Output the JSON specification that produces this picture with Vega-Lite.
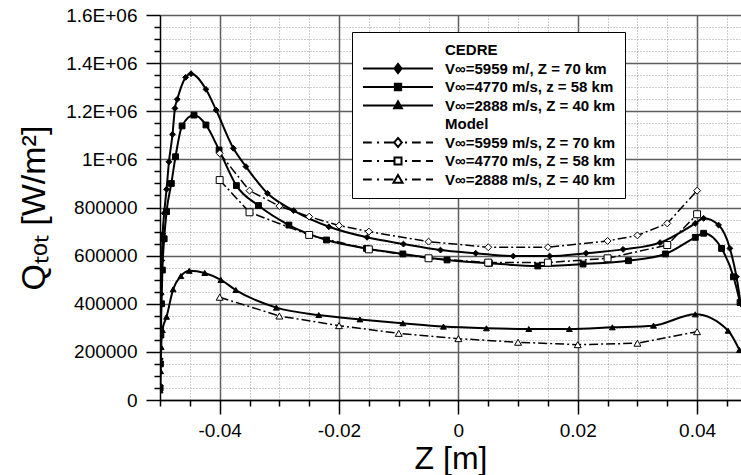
{
  "$schema": "https://vega.github.io/schema/vega-lite/v6.json",
  "width": 581,
  "height": 385,
  "autosize": {"type": "none"},
  "padding": {"left": 160, "top": 15, "right": 0, "bottom": 75},
  "background": "white",
  "config": {"view": {"stroke": null}, "font": "Liberation Sans"},
  "data": {"values": [
    {"src":"CEDRE","series":"V∞=5959 m/, Z = 70 km","z":-0.04998,"q":60000},
    {"src":"CEDRE","series":"V∞=5959 m/, Z = 70 km","z":-0.04994,"q":170000},
    {"src":"CEDRE","series":"V∞=5959 m/, Z = 70 km","z":-0.04988,"q":300000},
    {"src":"CEDRE","series":"V∞=5959 m/, Z = 70 km","z":-0.0498,"q":440000},
    {"src":"CEDRE","series":"V∞=5959 m/, Z = 70 km","z":-0.0497,"q":580000},
    {"src":"CEDRE","series":"V∞=5959 m/, Z = 70 km","z":-0.04955,"q":690000},
    {"src":"CEDRE","series":"V∞=5959 m/, Z = 70 km","z":-0.0493,"q":776000},
    {"src":"CEDRE","series":"V∞=5959 m/, Z = 70 km","z":-0.0489,"q":876000},
    {"src":"CEDRE","series":"V∞=5959 m/, Z = 70 km","z":-0.0485,"q":990000},
    {"src":"CEDRE","series":"V∞=5959 m/, Z = 70 km","z":-0.0479,"q":1104000},
    {"src":"CEDRE","series":"V∞=5959 m/, Z = 70 km","z":-0.0475,"q":1212000},
    {"src":"CEDRE","series":"V∞=5959 m/, Z = 70 km","z":-0.0471,"q":1250000},
    {"src":"CEDRE","series":"V∞=5959 m/, Z = 70 km","z":-0.0457,"q":1341000},
    {"src":"CEDRE","series":"V∞=5959 m/, Z = 70 km","z":-0.0448,"q":1356000},
    {"src":"CEDRE","series":"V∞=5959 m/, Z = 70 km","z":-0.0423,"q":1291000},
    {"src":"CEDRE","series":"V∞=5959 m/, Z = 70 km","z":-0.0406,"q":1205000},
    {"src":"CEDRE","series":"V∞=5959 m/, Z = 70 km","z":-0.0377,"q":1046000},
    {"src":"CEDRE","series":"V∞=5959 m/, Z = 70 km","z":-0.0356,"q":970000},
    {"src":"CEDRE","series":"V∞=5959 m/, Z = 70 km","z":-0.032,"q":859000},
    {"src":"CEDRE","series":"V∞=5959 m/, Z = 70 km","z":-0.0276,"q":787000},
    {"src":"CEDRE","series":"V∞=5959 m/, Z = 70 km","z":-0.0217,"q":720000},
    {"src":"CEDRE","series":"V∞=5959 m/, Z = 70 km","z":-0.0153,"q":676000},
    {"src":"CEDRE","series":"V∞=5959 m/, Z = 70 km","z":-0.0092,"q":648000},
    {"src":"CEDRE","series":"V∞=5959 m/, Z = 70 km","z":-0.003,"q":623000},
    {"src":"CEDRE","series":"V∞=5959 m/, Z = 70 km","z":0.0029,"q":610000},
    {"src":"CEDRE","series":"V∞=5959 m/, Z = 70 km","z":0.0092,"q":598000},
    {"src":"CEDRE","series":"V∞=5959 m/, Z = 70 km","z":0.0153,"q":598000},
    {"src":"CEDRE","series":"V∞=5959 m/, Z = 70 km","z":0.0214,"q":610000},
    {"src":"CEDRE","series":"V∞=5959 m/, Z = 70 km","z":0.0276,"q":626000},
    {"src":"CEDRE","series":"V∞=5959 m/, Z = 70 km","z":0.0338,"q":654000},
    {"src":"CEDRE","series":"V∞=5959 m/, Z = 70 km","z":0.0397,"q":734000},
    {"src":"CEDRE","series":"V∞=5959 m/, Z = 70 km","z":0.0411,"q":755000},
    {"src":"CEDRE","series":"V∞=5959 m/, Z = 70 km","z":0.0436,"q":727000},
    {"src":"CEDRE","series":"V∞=5959 m/, Z = 70 km","z":0.0455,"q":630000},
    {"src":"CEDRE","series":"V∞=5959 m/, Z = 70 km","z":0.0466,"q":512000},
    {"src":"CEDRE","series":"V∞=5959 m/, Z = 70 km","z":0.0473,"q":400000},

    {"src":"CEDRE","series":"V∞=4770 m/s, z = 58 km","z":-0.04998,"q":50000},
    {"src":"CEDRE","series":"V∞=4770 m/s, z = 58 km","z":-0.04993,"q":150000},
    {"src":"CEDRE","series":"V∞=4770 m/s, z = 58 km","z":-0.04985,"q":270000},
    {"src":"CEDRE","series":"V∞=4770 m/s, z = 58 km","z":-0.04975,"q":400000},
    {"src":"CEDRE","series":"V∞=4770 m/s, z = 58 km","z":-0.0496,"q":540000},
    {"src":"CEDRE","series":"V∞=4770 m/s, z = 58 km","z":-0.0493,"q":670000},
    {"src":"CEDRE","series":"V∞=4770 m/s, z = 58 km","z":-0.0489,"q":783000},
    {"src":"CEDRE","series":"V∞=4770 m/s, z = 58 km","z":-0.0481,"q":900000},
    {"src":"CEDRE","series":"V∞=4770 m/s, z = 58 km","z":-0.0474,"q":1011000},
    {"src":"CEDRE","series":"V∞=4770 m/s, z = 58 km","z":-0.0463,"q":1139000},
    {"src":"CEDRE","series":"V∞=4770 m/s, z = 58 km","z":-0.0443,"q":1184000},
    {"src":"CEDRE","series":"V∞=4770 m/s, z = 58 km","z":-0.0423,"q":1143000},
    {"src":"CEDRE","series":"V∞=4770 m/s, z = 58 km","z":-0.0401,"q":1039000},
    {"src":"CEDRE","series":"V∞=4770 m/s, z = 58 km","z":-0.0372,"q":891000},
    {"src":"CEDRE","series":"V∞=4770 m/s, z = 58 km","z":-0.0335,"q":808000},
    {"src":"CEDRE","series":"V∞=4770 m/s, z = 58 km","z":-0.0284,"q":727000},
    {"src":"CEDRE","series":"V∞=4770 m/s, z = 58 km","z":-0.0221,"q":665000},
    {"src":"CEDRE","series":"V∞=4770 m/s, z = 58 km","z":-0.0154,"q":630000},
    {"src":"CEDRE","series":"V∞=4770 m/s, z = 58 km","z":-0.0093,"q":607000},
    {"src":"CEDRE","series":"V∞=4770 m/s, z = 58 km","z":-0.0019,"q":582000},
    {"src":"CEDRE","series":"V∞=4770 m/s, z = 58 km","z":0.0052,"q":568000},
    {"src":"CEDRE","series":"V∞=4770 m/s, z = 58 km","z":0.0133,"q":557000},
    {"src":"CEDRE","series":"V∞=4770 m/s, z = 58 km","z":0.0209,"q":565000},
    {"src":"CEDRE","series":"V∞=4770 m/s, z = 58 km","z":0.0285,"q":579000},
    {"src":"CEDRE","series":"V∞=4770 m/s, z = 58 km","z":0.0347,"q":607000},
    {"src":"CEDRE","series":"V∞=4770 m/s, z = 58 km","z":0.0397,"q":676000},
    {"src":"CEDRE","series":"V∞=4770 m/s, z = 58 km","z":0.0411,"q":693000},
    {"src":"CEDRE","series":"V∞=4770 m/s, z = 58 km","z":0.0441,"q":630000},
    {"src":"CEDRE","series":"V∞=4770 m/s, z = 58 km","z":0.0461,"q":512000},
    {"src":"CEDRE","series":"V∞=4770 m/s, z = 58 km","z":0.0472,"q":405000},

    {"src":"CEDRE","series":"V∞=2888 m/s, Z = 40 km","z":-0.04998,"q":40000},
    {"src":"CEDRE","series":"V∞=2888 m/s, Z = 40 km","z":-0.0499,"q":120000},
    {"src":"CEDRE","series":"V∞=2888 m/s, Z = 40 km","z":-0.0498,"q":220000},
    {"src":"CEDRE","series":"V∞=2888 m/s, Z = 40 km","z":-0.0496,"q":291000},
    {"src":"CEDRE","series":"V∞=2888 m/s, Z = 40 km","z":-0.0489,"q":346000},
    {"src":"CEDRE","series":"V∞=2888 m/s, Z = 40 km","z":-0.0478,"q":460000},
    {"src":"CEDRE","series":"V∞=2888 m/s, Z = 40 km","z":-0.0465,"q":515000},
    {"src":"CEDRE","series":"V∞=2888 m/s, Z = 40 km","z":-0.0451,"q":537000},
    {"src":"CEDRE","series":"V∞=2888 m/s, Z = 40 km","z":-0.0425,"q":528000},
    {"src":"CEDRE","series":"V∞=2888 m/s, Z = 40 km","z":-0.0398,"q":499000},
    {"src":"CEDRE","series":"V∞=2888 m/s, Z = 40 km","z":-0.0373,"q":457000},
    {"src":"CEDRE","series":"V∞=2888 m/s, Z = 40 km","z":-0.0305,"q":384000},
    {"src":"CEDRE","series":"V∞=2888 m/s, Z = 40 km","z":-0.0234,"q":353000},
    {"src":"CEDRE","series":"V∞=2888 m/s, Z = 40 km","z":-0.0165,"q":335000},
    {"src":"CEDRE","series":"V∞=2888 m/s, Z = 40 km","z":-0.0093,"q":319000},
    {"src":"CEDRE","series":"V∞=2888 m/s, Z = 40 km","z":-0.0025,"q":305000},
    {"src":"CEDRE","series":"V∞=2888 m/s, Z = 40 km","z":0.0047,"q":298000},
    {"src":"CEDRE","series":"V∞=2888 m/s, Z = 40 km","z":0.0118,"q":295000},
    {"src":"CEDRE","series":"V∞=2888 m/s, Z = 40 km","z":0.0186,"q":295000},
    {"src":"CEDRE","series":"V∞=2888 m/s, Z = 40 km","z":0.0258,"q":302000},
    {"src":"CEDRE","series":"V∞=2888 m/s, Z = 40 km","z":0.0327,"q":309000},
    {"src":"CEDRE","series":"V∞=2888 m/s, Z = 40 km","z":0.0397,"q":356000},
    {"src":"CEDRE","series":"V∞=2888 m/s, Z = 40 km","z":0.0452,"q":288000},
    {"src":"CEDRE","series":"V∞=2888 m/s, Z = 40 km","z":0.0471,"q":208000},

    {"src":"Model","series":"V∞=5959 m/s, Z = 70 km","z":-0.04,"q":1025000},
    {"src":"Model","series":"V∞=5959 m/s, Z = 70 km","z":-0.035,"q":870000},
    {"src":"Model","series":"V∞=5959 m/s, Z = 70 km","z":-0.03,"q":806000},
    {"src":"Model","series":"V∞=5959 m/s, Z = 70 km","z":-0.025,"q":762000},
    {"src":"Model","series":"V∞=5959 m/s, Z = 70 km","z":-0.02,"q":725000},
    {"src":"Model","series":"V∞=5959 m/s, Z = 70 km","z":-0.015,"q":700000},
    {"src":"Model","series":"V∞=5959 m/s, Z = 70 km","z":-0.005,"q":658000},
    {"src":"Model","series":"V∞=5959 m/s, Z = 70 km","z":0.005,"q":635000},
    {"src":"Model","series":"V∞=5959 m/s, Z = 70 km","z":0.015,"q":635000},
    {"src":"Model","series":"V∞=5959 m/s, Z = 70 km","z":0.025,"q":661000},
    {"src":"Model","series":"V∞=5959 m/s, Z = 70 km","z":0.03,"q":684000},
    {"src":"Model","series":"V∞=5959 m/s, Z = 70 km","z":0.035,"q":734000},
    {"src":"Model","series":"V∞=5959 m/s, Z = 70 km","z":0.04,"q":870000},

    {"src":"Model","series":"V∞=4770 m/s, Z = 58 km","z":-0.04,"q":914000},
    {"src":"Model","series":"V∞=4770 m/s, Z = 58 km","z":-0.035,"q":780000},
    {"src":"Model","series":"V∞=4770 m/s, Z = 58 km","z":-0.025,"q":686000},
    {"src":"Model","series":"V∞=4770 m/s, Z = 58 km","z":-0.015,"q":626000},
    {"src":"Model","series":"V∞=4770 m/s, Z = 58 km","z":-0.005,"q":589000},
    {"src":"Model","series":"V∞=4770 m/s, Z = 58 km","z":0.005,"q":571000},
    {"src":"Model","series":"V∞=4770 m/s, Z = 58 km","z":0.015,"q":571000},
    {"src":"Model","series":"V∞=4770 m/s, Z = 58 km","z":0.025,"q":589000},
    {"src":"Model","series":"V∞=4770 m/s, Z = 58 km","z":0.035,"q":644000},
    {"src":"Model","series":"V∞=4770 m/s, Z = 58 km","z":0.04,"q":772000},

    {"src":"Model","series":"V∞=2888 m/s, Z = 40 km\u200b","z":-0.04,"q":427000},
    {"src":"Model","series":"V∞=2888 m/s, Z = 40 km\u200b","z":-0.03,"q":349000},
    {"src":"Model","series":"V∞=2888 m/s, Z = 40 km\u200b","z":-0.02,"q":309000},
    {"src":"Model","series":"V∞=2888 m/s, Z = 40 km\u200b","z":-0.01,"q":277000},
    {"src":"Model","series":"V∞=2888 m/s, Z = 40 km\u200b","z":0,"q":255000},
    {"src":"Model","series":"V∞=2888 m/s, Z = 40 km\u200b","z":0.01,"q":240000},
    {"src":"Model","series":"V∞=2888 m/s, Z = 40 km\u200b","z":0.02,"q":230000},
    {"src":"Model","series":"V∞=2888 m/s, Z = 40 km\u200b","z":0.03,"q":236000},
    {"src":"Model","series":"V∞=2888 m/s, Z = 40 km\u200b","z":0.04,"q":284000}
  ]},
  "encoding": {
    "x": {
      "field": "z", "type": "quantitative",
      "scale": {"domain": [-0.05, 0.04736], "nice": false, "zero": false},
      "axis": {
        "title": "Z [m]",
        "titleFont": "Liberation Sans", "titleFontSize": 32, "titleFontWeight": "normal", "titleColor": "black", "titlePadding": 3,
        "values": [-0.05,-0.045,-0.04,-0.035,-0.03,-0.025,-0.02,-0.015,-0.01,-0.005,0,0.005,0.01,0.015,0.02,0.025,0.03,0.035,0.04,0.045],
        "labelExpr": "indexof([-0.04,-0.02,0,0.02,0.04], datum.value) < 0 ? '' : (datum.value == 0 ? '0' : replace(format(datum.value, '.2f'), '\u2212', '-'))",
        "labelFont": "Liberation Sans", "labelFontSize": 19, "labelColor": "black", "labelPadding": 7, "labelOverlap": false, "labelFlush": false, "labelBound": false,
        "domainColor": "black", "domainWidth": 1.5,
        "tickColor": "black", "tickWidth": 1.5,
        "tickSize": {"condition": {"test": "indexof([-0.04,-0.02,0,0.02,0.04], datum.value) >= 0", "value": 14}, "value": 6},
        "grid": true,
        "gridColor": {"condition": {"test": "indexof([-0.04,-0.02,0,0.02,0.04], datum.value) >= 0", "value": "#5e5e5e"}, "value": "#9a9a9a"},
        "gridWidth": {"condition": {"test": "indexof([-0.04,-0.02,0,0.02,0.04], datum.value) >= 0", "value": 1.5}, "value": 1},
        "gridDash": {"condition": {"test": "indexof([-0.04,-0.02,0,0.02,0.04], datum.value) >= 0", "value": []}, "value": [1, 2]}
      }
    },
    "y": {
      "field": "q", "type": "quantitative",
      "scale": {"domain": [0, 1600000], "nice": false, "zero": true},
      "axis": {
        "title": "Qₜₒₜ [W/m²]",
        "titleFont": "Liberation Sans", "titleFontSize": 34, "titleFontWeight": "normal", "titleColor": "black", "titlePadding": 14,
        "values": [0,50000,100000,150000,200000,250000,300000,350000,400000,450000,500000,550000,600000,650000,700000,750000,800000,850000,900000,950000,1000000,1050000,1100000,1150000,1200000,1250000,1300000,1350000,1400000,1450000,1500000,1550000,1600000],
        "labelExpr": "datum.value % 200000 != 0 ? '' : (datum.value >= 1000000 ? format(datum.value / 1000000, '~g') + 'E+06' : format(datum.value, 'd'))",
        "labelFont": "Liberation Sans", "labelFontSize": 19, "labelColor": "black", "labelPadding": 9, "labelOverlap": false, "labelFlush": false, "labelBound": false,
        "domainColor": "black", "domainWidth": 1.5,
        "tickColor": "black", "tickWidth": 1.5,
        "tickSize": {"condition": {"test": "datum.value % 200000 == 0", "value": 14}, "value": 6},
        "grid": true,
        "gridColor": {"condition": {"test": "datum.value % 200000 == 0", "value": "#5e5e5e"}, "value": "#9a9a9a"},
        "gridWidth": {"condition": {"test": "datum.value % 200000 == 0", "value": 1.5}, "value": 1},
        "gridDash": {"condition": {"test": "datum.value % 200000 == 0", "value": []}, "value": [1, 2]}
      }
    }
  },
  "layer": [
    {
      "transform": [{"filter": "datum.src == 'CEDRE'"}],
      "mark": {"type": "line", "interpolate": "monotone", "color": "black", "strokeWidth": 2, "clip": true},
      "encoding": {"detail": {"field": "series"}}
    },
    {
      "transform": [{"filter": "datum.src == 'Model'"}],
      "mark": {"type": "line", "color": "black", "strokeWidth": 1.5, "strokeDash": [9, 3, 2, 3], "clip": true},
      "encoding": {"detail": {"field": "series"}}
    },
    {
      "mark": {"type": "point", "filled": true, "stroke": "black", "strokeWidth": 1, "opacity": 1, "clip": true},
      "encoding": {
        "shape": {"field": "series", "scale": {
          "domain": ["V∞=5959 m/, Z = 70 km","V∞=4770 m/s, z = 58 km","V∞=2888 m/s, Z = 40 km","V∞=5959 m/s, Z = 70 km","V∞=4770 m/s, Z = 58 km","V∞=2888 m/s, Z = 40 km\u200b"],
          "range": ["diamond","square","triangle-up","diamond","square","triangle-up"]}, "legend": null},
        "fill": {"field": "src", "scale": {"domain": ["CEDRE","Model"], "range": ["black","white"]}, "legend": null},
        "size": {"field": "src", "type": "nominal", "scale": {"domain": ["CEDRE","Model"], "range": [34, 48]}, "legend": null}
      }
    },
    {
      "mark": {"type": "point", "filled": true, "strokeWidth": 2, "opacity": 0},
      "encoding": {
        "shape": {"field": "series",
          "scale": {
            "domain": ["CEDRE","V∞=5959 m/, Z = 70 km","V∞=4770 m/s, z = 58 km","V∞=2888 m/s, Z = 40 km","Model","V∞=5959 m/s, Z = 70 km","V∞=4770 m/s, Z = 58 km","V∞=2888 m/s, Z = 40 km\u200b"],
            "range": [
              "M0,0",
              "M-1,0L1,0M0,-0.13L0.1,0L0,0.13L-0.1,0Z",
              "M-1,0L1,0M-0.09,-0.09L0.09,-0.09L0.09,0.09L-0.09,0.09Z",
              "M-1,0L1,0M0,-0.12L0.11,0.08L-0.11,0.08Z",
              "M0,0",
              "M-1,0L-0.75,0M-0.6,0L-0.54,0M-0.4,0L-0.11,0M0,-0.13L0.11,0L0,0.13L-0.11,0ZM0.2,0L0.26,0M0.4,0L0.65,0M0.8,0L1,0",
              "M-1,0L-0.75,0M-0.6,0L-0.54,0M-0.4,0L-0.1,0M-0.1,-0.1L0.1,-0.1L0.1,0.1L-0.1,0.1ZM0.2,0L0.26,0M0.4,0L0.65,0M0.8,0L1,0",
              "M-1,0L-0.75,0M-0.6,0L-0.54,0M-0.4,0L-0.13,0M0,-0.13L0.13,0.09L-0.13,0.09ZM0.2,0L0.26,0M0.4,0L0.65,0M0.8,0L1,0"
            ]
          },
          "legend": {"title": null, "orient": "none", "legendX": 192, "legendY": 17, "padding": 10, "fillColor": "white", "strokeColor": "black",
            "symbolSize": 4900, "symbolStrokeWidth": 2, "symbolOpacity": 1, "symbolOffset": 0,
            "labelOffset": 11, "labelFont": "Liberation Sans", "labelFontSize": 15, "labelFontWeight": "bold", "labelColor": "black", "labelLimit": 400,
            "clipHeight": 16, "rowPadding": 2.5}
        },
        "fill": {"field": "series",
          "scale": {
            "domain": ["CEDRE","V∞=5959 m/, Z = 70 km","V∞=4770 m/s, z = 58 km","V∞=2888 m/s, Z = 40 km","Model","V∞=5959 m/s, Z = 70 km","V∞=4770 m/s, Z = 58 km","V∞=2888 m/s, Z = 40 km\u200b"],
            "range": ["transparent","black","black","black","transparent","white","white","white"]
          },
          "legend": {"title": null, "orient": "none", "legendX": 192, "legendY": 17, "padding": 10, "fillColor": "white", "strokeColor": "black",
            "symbolSize": 4900, "symbolStrokeWidth": 2, "symbolOpacity": 1, "symbolOffset": 0,
            "labelOffset": 11, "labelFont": "Liberation Sans", "labelFontSize": 15, "labelFontWeight": "bold", "labelColor": "black", "labelLimit": 400,
            "clipHeight": 16, "rowPadding": 2.5}
        },
        "stroke": {"field": "series",
          "scale": {
            "domain": ["CEDRE","V∞=5959 m/, Z = 70 km","V∞=4770 m/s, z = 58 km","V∞=2888 m/s, Z = 40 km","Model","V∞=5959 m/s, Z = 70 km","V∞=4770 m/s, Z = 58 km","V∞=2888 m/s, Z = 40 km\u200b"],
            "range": ["transparent","black","black","black","transparent","black","black","black"]
          },
          "legend": {"title": null, "orient": "none", "legendX": 192, "legendY": 17, "padding": 10, "fillColor": "white", "strokeColor": "black",
            "symbolSize": 4900, "symbolStrokeWidth": 2, "symbolOpacity": 1, "symbolOffset": 0,
            "labelOffset": 11, "labelFont": "Liberation Sans", "labelFontSize": 15, "labelFontWeight": "bold", "labelColor": "black", "labelLimit": 400,
            "clipHeight": 16, "rowPadding": 2.5}
        }
      }
    }
  ],
  "resolve": {"scale": {"shape": "independent", "fill": "independent", "stroke": "independent", "size": "independent"}}
}
